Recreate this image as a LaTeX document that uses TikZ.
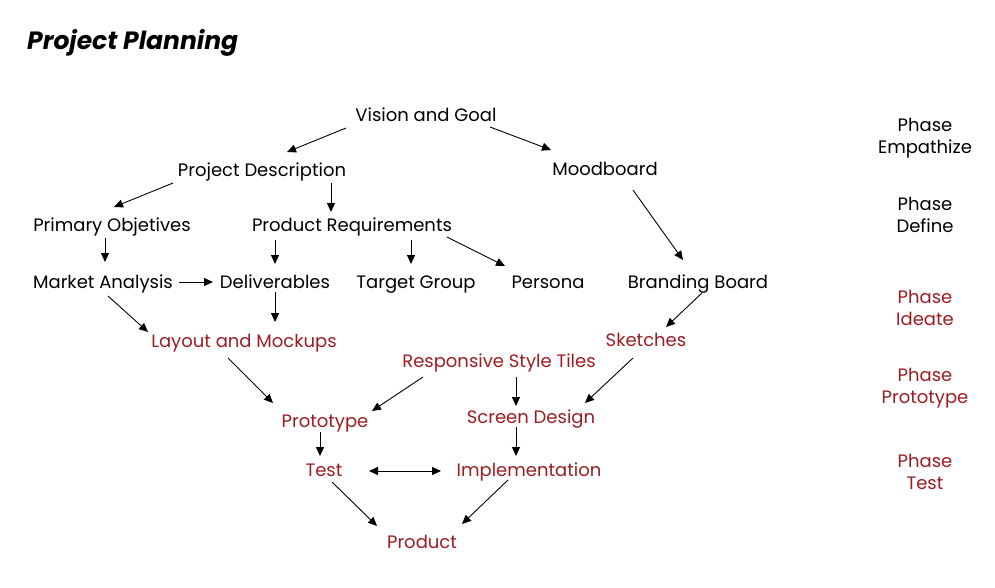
\documentclass[tikz,border=0pt]{standalone}
\usepackage{fontspec}
\setmainfont{Poppins}
\usepackage{xcolor}
\definecolor{rojoFase}{RGB}{155,29,34}
\usepackage{tikz}
\usetikzlibrary{arrows.meta, positioning}

\begin{document}
\begin{tikzpicture}[
  x=1pt, y=-1pt,
  item/.style={inner sep=0pt, text height=12pt, text depth=4pt,
               font=\fontsize{18}{22}\selectfont},
  redItem/.style={item, text=rojoFase},
  phase/.style={inner sep=0pt, align=center,
                font=\fontsize{18}{22}\selectfont},
  arr/.style={-{Triangle[length=9pt, width=8pt]}, line width=0.9pt},
  darr/.style={{Triangle[length=9pt, width=8pt]}-{Triangle[length=9pt, width=8pt]}, line width=0.9pt}
]
\useasboundingbox (0,0) rectangle (995,587);

% Titulo
\node[anchor=west, inner sep=0pt, font=\fontsize{25}{30}\selectfont\bfseries\itshape] (title) at (27,43) {Project Planning};

% Nivel empatizar / definir
\node[item] (vg) at (426,117) {Vision and Goal};
\node[item] (pd) at (262,172) {Project Description};
\node[item] (mb) at (605,171) {Moodboard};
\node[item] (po) at (112,227) {Primary Objetives};
\node[item] (pr) at (352,227) {Product Requirements};
\node[item] (ma) at (103,284) {Market Analysis};
\node[item] (dl) at (275,284) {Deliverables};
\node[item] (tg) at (416,284) {Target Group};
\node[item] (pe) at (548,284) {Persona};
\node[item] (bb) at (698,284) {Branding Board};

% Nivel idear / prototipo / test
\node[redItem] (lm) at (244,343) {Layout and Mockups};
\node[redItem] (sk) at (646,342) {Sketches};
\node[redItem] (rs) at (499,363) {Responsive Style Tiles};
\node[redItem] (pt) at (325,423) {Prototype};
\node[redItem] (sd) at (531,419) {Screen Design};
\node[redItem] (ts) at (324,472) {Test};
\node[redItem] (im) at (529,472) {Implementation};
\node[redItem] (prod) at (422,544) {Product};

% Fases
\node[phase] (f1) at (925,138) {Phase\\Empathize};
\node[phase] (f2) at (925,215) {Phase\\Define};
\node[phase, text=rojoFase] (f3) at (925,308) {Phase\\Ideate};
\node[phase, text=rojoFase] (f4) at (925,388) {Phase\\Prototype};
\node[phase, text=rojoFase] (f5) at (925,472) {Phase\\Test};

% Flechas
\draw[arr] ([shift={(-80,11)}]vg.center) -- ([shift={(25,-20)}]pd.center);
\draw[arr] ([shift={(64,10)}]vg.center) -- ([shift={(-54,-21)}]mb.center);
\draw[arr] ([shift={(-89,11)}]pd.center) -- ([shift={(2,-20)}]po.center);
\draw[arr] ([shift={(69,11)}]pd.center) -- ([shift={(-21,-15)}]pr.center);
\draw[arr] ([shift={(28,19)}]mb.center) -- ([shift={(-15,-24)}]bb.center);
\draw[arr] ([shift={(-7,11)}]po.center) -- ([shift={(2,-22)}]ma.center);
\draw[arr] ([shift={(-77,13)}]pr.center) -- ([shift={(0,-20)}]dl.center);
\draw[arr] ([shift={(59,13)}]pr.center) -- ([shift={(-5,-20)}]tg.center);
\draw[arr] ([shift={(95,10)}]pr.center) -- ([shift={(-43,-18)}]pe.center);
\draw[arr] ([shift={(76,-2)}]ma.center) -- ([shift={(-62,-2)}]dl.center);
\draw[arr] ([shift={(5,12)}]ma.center) -- ([shift={(-96,-11)}]lm.center);
\draw[arr] ([shift={(0,8)}]dl.center) -- ([shift={(31,-21)}]lm.center);
\draw[arr] ([shift={(4,9)}]bb.center) -- ([shift={(20,-15)}]sk.center);
\draw[arr] ([shift={(-16,15)}]lm.center) -- ([shift={(-52,-20)}]pt.center);
\draw[arr] ([shift={(-76,14)}]rs.center) -- ([shift={(47,-12)}]pt.center);
\draw[arr] ([shift={(17,14)}]rs.center) -- ([shift={(-15,-13)}]sd.center);
\draw[arr] ([shift={(-13,16)}]sk.center) -- ([shift={(54,-16)}]sd.center);
\draw[arr] ([shift={(-5,9)}]pt.center) -- ([shift={(-4,-16)}]ts.center);
\draw[arr] ([shift={(-15,8)}]sd.center) -- ([shift={(-13,-16)}]im.center);
\draw[darr] ([shift={(45,-1)}]ts.center) -- ([shift={(-88,-1)}]im.center);
\draw[arr] ([shift={(8,10)}]ts.center) -- ([shift={(-45,-18)}]prod.center);
\draw[arr] ([shift={(-21,8)}]im.center) -- ([shift={(40,-20)}]prod.center);

\end{tikzpicture}
\end{document}
